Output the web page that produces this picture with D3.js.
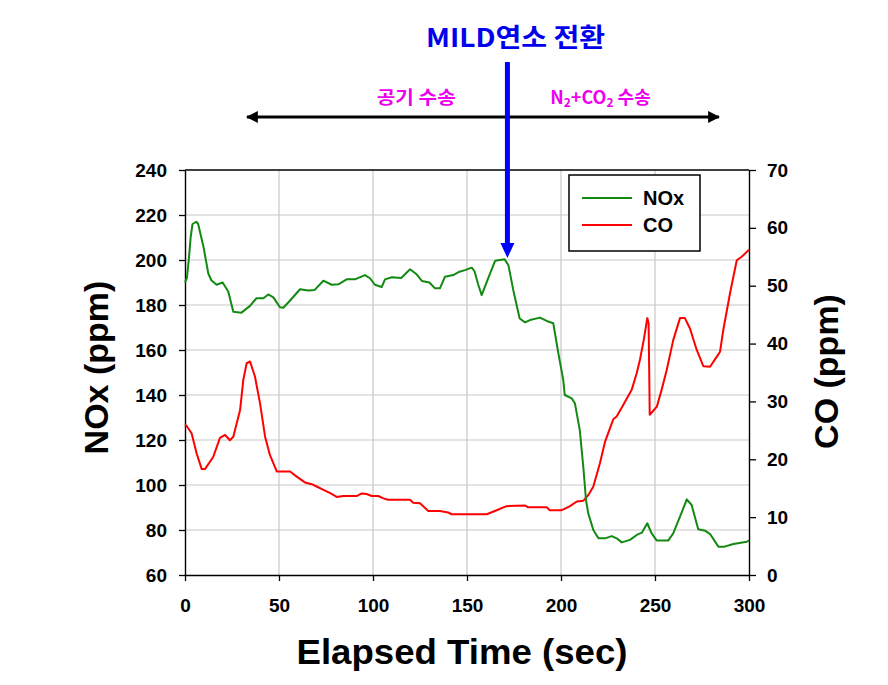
<!DOCTYPE html>
<html>
<head>
<meta charset="utf-8">
<script src="https://cdn.jsdelivr.net/npm/d3@7/dist/d3.min.js"></script>
<style>
  html, body { margin: 0; padding: 0; background: #fff; }
  svg { display: block; }
  .tick text { font-family: Arial, "Liberation Sans", sans-serif; font-weight: bold; font-size: 19px; fill: #000; }
</style>
</head>
<body>
<svg id="chart" width="888" height="685"></svg>
<script>
// ---- Data ----
const noxTime = [0,1,2,3,4,6,7,9.8,12.4,14,16.8,20,23,25.7,30,34.6,38,41.7,44.3,47,50.5,52.3,55.9,61.2,65.6,69,73.6,78,81.6,86,90.4,95.7,98.4,101,104.6,106.4,110,115,119.7,123,126,130,133,135.6,138.3,142.7,146,149,152.5,154,156,157.8,161.3,165,170,172,174.6,178,180.9,183.5,188.8,192.4,195.9,198.6,201.2,202,205.7,207.4,210,212,213.3,214.5,217.2,219.9,223.4,227,229.6,232.3,236.7,240.3,243,245.9,248.2,251,257,259.7,263.3,266.9,269.5,273,276.6,279.3,283.7,287,291.7,298.8,300];
const noxValues = [190,192,200,210,216,217,216,206,194,191,189,190,186,177,176.6,179.6,183,183,184.7,183.4,179,178.8,182,187,186.4,186.7,190.8,189,189.2,191.4,191.4,193.3,191.9,189,188,191.4,192.3,192,195.9,193.8,190.7,190,187.4,187.4,192.6,193.3,194.8,195.5,196.6,195,189,184.4,191.9,199.7,200.3,197.8,186.7,174,172.3,173.3,174.4,172.9,171.9,158.5,146.7,140,138.5,136.3,124.4,106.7,93.3,87.4,80,76.3,76.3,77.3,76.3,74.5,75.6,77.8,78.8,83,78.5,75.3,75.3,78.5,85.9,93.6,91.1,80.3,79.7,78.2,72.6,72.6,73.8,74.8,75.3];

const coTime = [0,0.9,3.5,6.2,8.9,10.6,15,18.6,21.3,23.9,25.7,29.3,31,32.8,34.6,37.2,39.9,42.6,45.2,48.8,55.9,59.4,63.8,67.4,70,74.5,77,80.7,84.2,91.3,94,96.6,99.3,102.8,105.5,108,119.7,121.4,125,129.4,135.6,140,141.8,160.5,165.8,171,180.9,182.6,192.4,194,200.4,204.8,208.4,211.9,214.5,217.2,220.7,223.4,227.8,229.6,233.1,237.6,240.3,242,244,245.9,246.6,247.2,251,253.5,256.2,259.7,263.3,265.9,268.6,272.2,275.7,279.3,282.8,284.6,286.3,289.9,293.5,296.1,300];
const coValues = [26,25.75,24.5,21,18.3,18.3,20.4,23.7,24.2,23.3,23.9,28.5,33.7,36.6,36.9,34.3,29.7,23.9,20.7,17.9,17.9,17,16,15.7,15.3,14.6,14.2,13.5,13.65,13.65,14.1,14,13.65,13.65,13.25,13,13,12.5,12.4,11.06,11.06,10.8,10.5,10.5,11.2,11.9,12,11.7,11.7,11.2,11.2,11.9,12.7,12.85,13.8,15.3,19.3,23,26.9,27.4,29.4,32,34.9,37.2,40.6,44.4,43.5,27.7,29.1,32,35.4,40.6,44.4,44.4,42.6,38.9,36.1,36,37.7,38.6,42.3,48.7,54.4,55,56.2];

const xTicks = [0,50,100,150,200,250,300];
const noxTicks = [60,80,100,120,140,160,180,200,220,240];
const coTicks = [0,10,20,30,40,50,60,70];

const seriesNames = ["NOx", "CO"];
const seriesColors = ["#128a12", "#ff0000"];

const switchTime = 171.5;          // MILD 연소 전환
const phaseSpan = [33, 284];       // 공기 수송 / N2+CO2 수송 double arrow
const phaseLabelTimes = [123, 221];

// ---- Chart ----
const svg = d3.select("#chart");
const W = 888, H = 685;
const plot = { left: 185, right: 749, top: 170, bottom: 575 };
const FONT = "Arial, 'Liberation Sans', sans-serif";
const KFONT = "'Noto Sans CJK KR', sans-serif";

svg.append("rect").attr("width", W).attr("height", H).attr("fill", "#fff");

const x = d3.scaleLinear().domain([0, 300]).range([plot.left, plot.right]);
const yN = d3.scaleLinear().domain([60, 240]).range([plot.bottom, plot.top]);
const yC = d3.scaleLinear().domain([0, 70]).range([plot.bottom, plot.top]);

// grid
const grid = svg.append("g").attr("stroke", "#c8c8c8").attr("stroke-width", 1.2);
grid.selectAll("line.v").data(xTicks.filter(d => d > 0 && d < 300)).join("line")
  .attr("x1", d => x(d)).attr("x2", d => x(d))
  .attr("y1", plot.top).attr("y2", plot.bottom);
grid.selectAll("line.h").data(noxTicks.filter(d => d > 60 && d < 240)).join("line")
  .attr("x1", plot.left).attr("x2", plot.right)
  .attr("y1", d => yN(d)).attr("y2", d => yN(d));

// top frame line
svg.append("line").attr("x1", plot.left).attr("x2", plot.right)
  .attr("y1", plot.top).attr("y2", plot.top).attr("stroke", "#000").attr("stroke-width", 1.3);

// axes
const gx = svg.append("g").attr("transform", `translate(0,${plot.bottom})`)
  .call(d3.axisBottom(x).tickValues(xTicks).tickSize(6).tickPadding(18).tickSizeOuter(0));
const gl = svg.append("g").attr("transform", `translate(${plot.left},0)`)
  .call(d3.axisLeft(yN).tickValues(noxTicks).tickSize(6).tickPadding(12).tickSizeOuter(0));
const gr = svg.append("g").attr("transform", `translate(${plot.right},0)`)
  .call(d3.axisRight(yC).tickValues(coTicks).tickSize(7).tickPadding(11).tickSizeOuter(0));
[gx, gl, gr].forEach(g => {
  g.select(".domain").attr("stroke", "#000").attr("stroke-width", 1.4);
  g.selectAll(".tick line").attr("stroke", "#000").attr("stroke-width", 1.3);
});
gx.selectAll(".tick text").attr("dy", "0.71em");

// lines
const lineN = d3.line().x((d, i) => x(noxTime[i])).y(d => yN(d));
const lineC = d3.line().x((d, i) => x(coTime[i])).y(d => yC(d));
svg.append("path").attr("d", lineC(coValues)).attr("fill", "none")
  .attr("stroke", seriesColors[1]).attr("stroke-width", 2).attr("stroke-linejoin", "round");
svg.append("path").attr("d", lineN(noxValues)).attr("fill", "none")
  .attr("stroke", seriesColors[0]).attr("stroke-width", 2).attr("stroke-linejoin", "round");

// legend
const lg = svg.append("g");
lg.append("rect").attr("x", 569).attr("y", 175).attr("width", 131).attr("height", 76)
  .attr("fill", "#fff").attr("stroke", "#000").attr("stroke-width", 1.5);
seriesNames.forEach((name, i) => {
  const ly = 198 + i * 27;
  lg.append("line").attr("x1", 582).attr("x2", 632).attr("y1", ly).attr("y2", ly)
    .attr("stroke", seriesColors[i]).attr("stroke-width", 2);
  lg.append("text").attr("x", 643).attr("y", ly + 7).text(name)
    .attr("font-family", FONT).attr("font-weight", "bold").attr("font-size", 20).attr("fill", "#000");
});

// axis titles
svg.append("text").attr("transform", `translate(108,${(plot.top + plot.bottom) / 2 - 5}) rotate(-90)`)
  .attr("text-anchor", "middle").attr("font-family", FONT).attr("font-weight", "bold")
  .attr("font-size", 34).text("NOx (ppm)");
svg.append("text").attr("transform", `translate(838,${(plot.top + plot.bottom) / 2 - 1}) rotate(-90)`)
  .attr("text-anchor", "middle").attr("font-family", FONT).attr("font-weight", "bold")
  .attr("font-size", 34).text("CO (ppm)");
svg.append("text").attr("x", 462).attr("y", 664)
  .attr("text-anchor", "middle").attr("font-family", FONT).attr("font-weight", "bold")
  .attr("font-size", 35).attr("textLength", 331).attr("lengthAdjust", "spacingAndGlyphs")
  .text("Elapsed Time (sec)");

// double arrow (phase span)
const defs = svg.append("defs");
defs.append("marker").attr("id", "ahBlack").attr("viewBox", "0 0 10 10")
  .attr("refX", 9).attr("refY", 5).attr("markerWidth", 4).attr("markerHeight", 4)
  .attr("markerUnits", "strokeWidth").attr("orient", "auto-start-reverse")
  .append("path").attr("d", "M0,0 L10,5 L0,10 Z").attr("fill", "#000");
svg.append("line").attr("x1", x(phaseSpan[0])).attr("x2", x(phaseSpan[1]))
  .attr("y1", 117).attr("y2", 117).attr("stroke", "#000").attr("stroke-width", 3)
  .attr("marker-start", "url(#ahBlack)").attr("marker-end", "url(#ahBlack)");

// blue switch arrow
const sx = x(switchTime);
svg.append("line").attr("x1", sx).attr("x2", sx).attr("y1", 62).attr("y2", 246)
  .attr("stroke", "#0000ff").attr("stroke-width", 5);
svg.append("path").attr("d", `M${sx - 7},243 L${sx + 7},243 L${sx},258 Z`).attr("fill", "#0000ff");

// title
svg.append("text").attr("x", 515.5).attr("y", 47).attr("text-anchor", "middle")
  .attr("font-family", KFONT).attr("font-weight", "bold").attr("font-size", 26)
  .attr("fill", "#0000ee").attr("textLength", 179).attr("lengthAdjust", "spacingAndGlyphs")
  .text("MILD연소 전환");

// phase labels
const pink = "#ee00ee";
svg.append("text").attr("x", x(phaseLabelTimes[0])).attr("y", 104).attr("text-anchor", "middle")
  .attr("font-family", KFONT).attr("font-weight", "bold").attr("font-size", 18).attr("fill", pink)
  .attr("textLength", 79).attr("lengthAdjust", "spacingAndGlyphs").text("공기 수송");
const t2 = svg.append("text").attr("x", x(phaseLabelTimes[1])).attr("y", 104).attr("text-anchor", "middle")
  .attr("font-family", KFONT).attr("font-weight", "bold").attr("font-size", 18).attr("fill", pink);
t2.append("tspan").text("N");
t2.append("tspan").attr("font-size", 12).attr("dy", 3).text("2");
t2.append("tspan").attr("dy", -3).text("+CO");
t2.append("tspan").attr("font-size", 12).attr("dy", 3).text("2");
t2.append("tspan").attr("dy", -3).text(" 수송");
</script>
</body>
</html>
